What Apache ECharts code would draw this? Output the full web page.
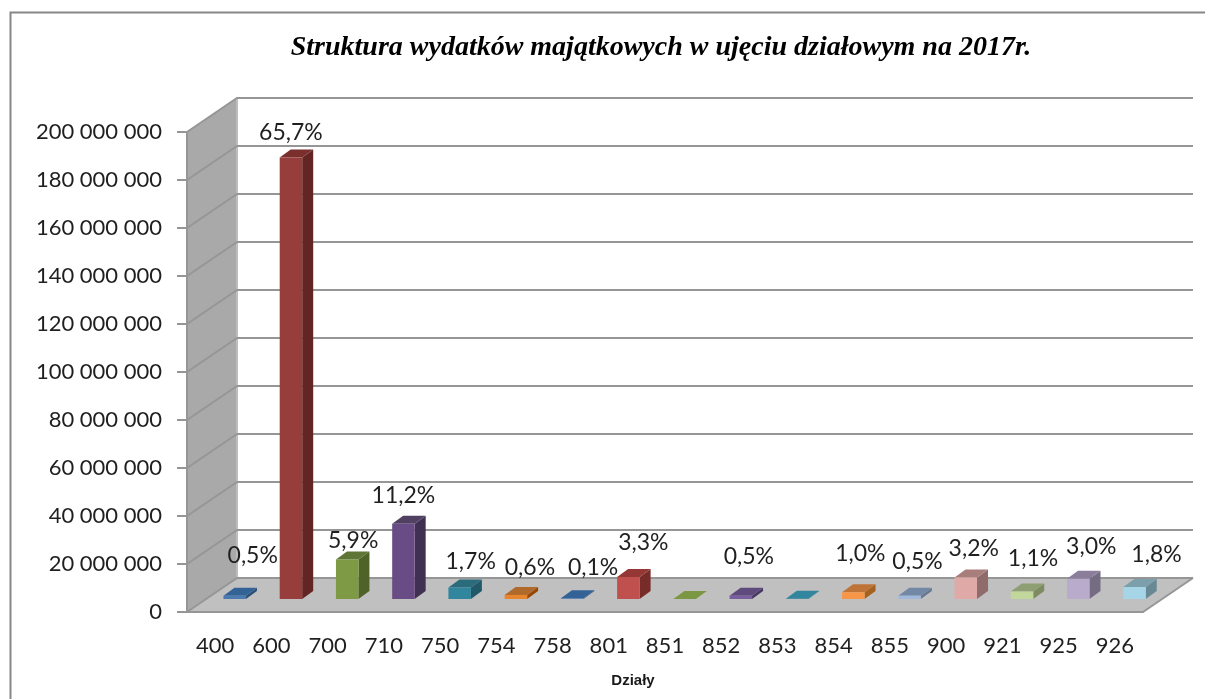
<!DOCTYPE html>
<html>
<head>
<meta charset="utf-8">
<style>html,body{margin:0;padding:0;background:#fff}#chart{width:1205px;height:699px}</style>
<script src="https://cdn.jsdelivr.net/npm/echarts@6/dist/echarts.min.js"></script>
</head>
<body>
<div id="chart"></div>
<script>
const categories = ['400', '600', '700', '710', '750', '754', '758', '801', '851', '852', '853', '854', '855', '900', '921', '925', '926']
const values = [1400000, 184000000, 16500000, 31400000, 4800000, 1700000, 300000, 9200000, 50000, 1400000, 100000, 2800000, 1400000, 9000000, 3100000, 8400000, 5000000]
const shares = ['0,5%', '65,7%', '5,9%', '11,2%', '1,7%', '0,6%', '0,1%', '3,3%', '', '0,5%', '', '1,0%', '0,5%', '3,2%', '1,1%', '3,0%', '1,8%']
const gridValues = [0, 20000000, 40000000, 60000000, 80000000, 100000000, 120000000, 140000000, 160000000, 180000000, 200000000]

// front, top, side of each column
const colors = [
  ['#4a7ab0', '#336296', '#2a5078'], ['#973d3b', '#7a2f2d', '#632523'], ['#7f9a45', '#5f7535', '#4f6228'],
  ['#694c85', '#524063', '#403152'], ['#31859c', '#2a6b7c', '#215968'], ['#e8852f', '#b06a2c', '#974806'],
  ['#4a7ab0', '#336296', '#2a5078'], ['#c0504d', '#953735', '#772c2a'], ['#7b9742', '#7b9742', '#4f6228'],
  ['#7a5fa0', '#5f4a7d', '#463660'], ['#31859c', '#31859c', '#215968'], ['#f79646', '#bf7437', '#a5621e'],
  ['#a0b8da', '#7388a5', '#66788f'], ['#dfa9a7', '#a87e7d', '#8f6c6b'], ['#c3d69b', '#8f9f74', '#7d8a62'],
  ['#b9abcc', '#8b7e9b', '#756b83'], ['#a5d5e6', '#7ba0ac', '#688893']
]
// label offset from the top of the column, moved by hand in the original
const labelNudge = [
  [18, -40], [0, -25], [6, -19], [0, -28], [11, -26], [14, -27], [21, -31], [15, -34], [0, 0],
  [8, -39], [0, 0], [7, -39], [8, -34], [8, -29], [11, -33], [13, -32], [22, -32]
]

const depthX = 50
const depthY = 34
const barShiftX = 19.6
const barShiftY = 13
const barDepthX = 11
const barDepthY = 8
const lineColor = '#969696'
const labelFont = 'Lato'

const formatTick = v => String(v).replace(/\B(?=(\d{3})+$)/g, ' ')

const poly = (points, fill) => ({ type: 'polygon', shape: { points }, style: { fill, stroke: null } })

const renderScene = function (params, api) {
  const a = api.coord([0, 0])
  const band = api.size([1, 0])[0]
  const x0 = a[0] - band / 2
  const x1 = x0 + band * categories.length
  const y0 = a[1]
  const yTop = api.coord([0, gridValues[gridValues.length - 1]])[1]
  return {
    type: 'group',
    children: [
      poly([[x0, y0], [x0 + depthX, y0 - depthY], [x0 + depthX, yTop - depthY], [x0, yTop]], '#a9a9a9'),
      poly([[x0, y0], [x1, y0], [x1 + depthX, y0 - depthY], [x0 + depthX, y0 - depthY]], '#c0c0c0'),
      {
        type: 'line',
        shape: { x1: x0 + depthX, y1: y0 - depthY, x2: x0 + depthX, y2: yTop - depthY },
        style: { stroke: '#bdbdbd', lineWidth: 2 }
      },
      {
        type: 'polyline',
        shape: { points: [[x1, y0], [x1 + depthX, y0 - depthY]] },
        style: { stroke: lineColor, lineWidth: 2, fill: null }
      }
    ]
  }
}

const renderGridLine = function (params, api) {
  const p = api.coord([0, api.value(0)])
  const band = api.size([1, 0])[0]
  const x0 = p[0] - band / 2
  const x1 = x0 + band * categories.length
  return {
    type: 'polyline',
    shape: { points: [[x0, p[1]], [x0 + depthX, p[1] - depthY], [x1 + depthX, p[1] - depthY]] },
    style: { stroke: lineColor, lineWidth: 2, fill: null }
  }
}

const renderBar = function (params, api) {
  const i = api.value(0)
  const top = api.coord([i, api.value(1)])
  const bottom = api.coord([i, 0])
  const w = api.size([1, 0])[0] * 0.4
  const x = top[0] + barShiftX - w / 2
  const yt = top[1] - barShiftY
  const yb = bottom[1] - barShiftY
  const c = colors[i]
  const children = [
    poly([[x + w, yb], [x + w + barDepthX, yb - barDepthY], [x + w + barDepthX, yt - barDepthY], [x + w, yt]], c[2]),
    poly([[x, yt], [x + barDepthX, yt - barDepthY], [x + w + barDepthX, yt - barDepthY], [x + w, yt]], c[1]),
    poly([[x, yb], [x + w, yb], [x + w, yt], [x, yt]], c[0])
  ]
  if (shares[i]) {
    children.push({
      type: 'text',
      z2: 10,
      style: {
        x: top[0] + barShiftX + labelNudge[i][0],
        y: yt + labelNudge[i][1],
        text: shares[i],
        font: '23px ' + labelFont,
        fill: '#1f1f1f',
        align: 'center',
        verticalAlign: 'middle'
      }
    })
  }
  return { type: 'group', children }
}

const option = {
  animation: false,
  backgroundColor: '#fff',
  title: {
    text: 'Struktura wydatków majątkowych w ujęciu działowym na 2017r.',
    left: 656,
    top: 29,
    textAlign: 'center',
    textStyle: { fontFamily: 'Liberation Serif', fontSize: 28, fontWeight: 'bold', fontStyle: 'italic', color: '#000' }
  },
  graphic: [{
    type: 'polyline',
    silent: true,
    shape: { points: [[10.5, 699], [10.5, 12.5], [1205, 12.5]] },
    style: { stroke: '#868686', lineWidth: 2, fill: null }
  }],
  grid: { left: 187, top: 132, width: 956, height: 480 },
  xAxis: {
    type: 'category',
    data: categories,
    name: 'Działy',
    nameLocation: 'middle',
    nameGap: 61,
    nameTextStyle: { fontFamily: 'Liberation Sans', fontSize: 15, fontWeight: 'bold', color: '#1a1a1a', padding: [0, 64, 0, 0] },
    z: 5,
    axisLine: { lineStyle: { color: lineColor, width: 2 } },
    axisTick: { length: 7, lineStyle: { color: lineColor, width: 2 } },
    axisLabel: { margin: 23, interval: 0, fontFamily: labelFont, fontSize: 22, color: '#1f1f1f' }
  },
  yAxis: {
    type: 'value',
    min: 0,
    max: 200000000,
    interval: 20000000,
    z: 5,
    axisLine: { show: true, lineStyle: { color: lineColor, width: 2 } },
    axisTick: { show: true, length: 10, lineStyle: { color: lineColor, width: 2 } },
    splitLine: { show: false },
    axisLabel: { margin: 25, fontFamily: labelFont, fontSize: 22, color: '#1f1f1f', formatter: formatTick }
  },
  series: [
    { type: 'custom', z: 1, silent: true, renderItem: renderScene, data: [[0]] },
    { type: 'custom', z: 2, silent: true, renderItem: renderGridLine, data: gridValues.map(v => [v]) },
    { type: 'custom', z: 3, silent: true, renderItem: renderBar, data: values.map((v, i) => [i, v]) }
  ]
}

const myChart = echarts.init(document.getElementById('chart'))
myChart.setOption(option)
</script>
</body>
</html>
